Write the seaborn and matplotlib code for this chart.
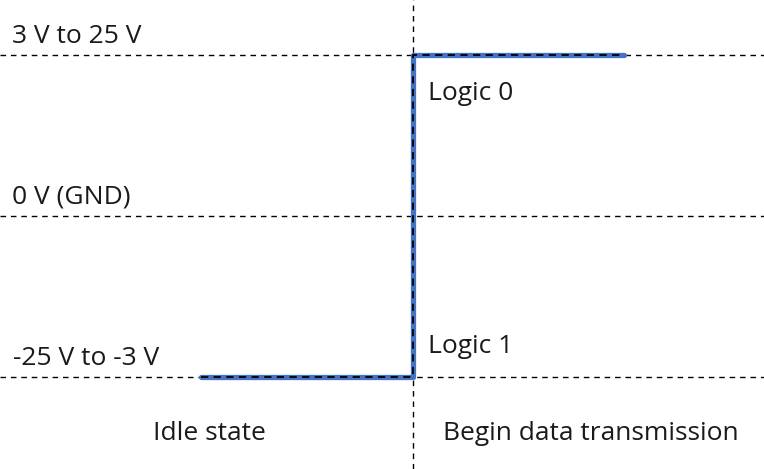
import matplotlib
matplotlib.use("Agg")
import matplotlib.pyplot as plt
import pandas as pd
import seaborn as sns

# voltage levels (high, ground, low) and their labels
level_values = [1, 0, -1]
level_labels = ["3 V to 25 V", "0 V (GND)", "-25 V to -3 V"]

# signal: idle at logic 1, then start of transmission at logic 0
signal_time = [-1, 0, 0, 1]
signal_level = [-1, -1, 1, 1]

logic_labels = ["Logic 0", "Logic 1"]
phase_labels = ["Idle state", "Begin data transmission"]

sns.set_theme(style="white")
plt.rcParams["font.family"] = ["Open Sans", "DejaVu Sans"]

W, H = 764, 469
fig = plt.figure(figsize=(W / 100, H / 100), dpi=100)
ax = fig.add_axes([0, 0, 1, 1])

df = pd.DataFrame({"time": signal_time, "level": signal_level})
sns.lineplot(data=df, x="time", y="level", sort=False, estimator=None,
             color="#4472C4", linewidth=3.8, ax=ax)
sns.lineplot(data=df, x="time", y="level", sort=False, estimator=None,
             color="black", linewidth=1.3, ax=ax)
ax.lines[-1].set_dashes((4, 3))

for v in level_values:
    ax.axhline(v, color="black", linewidth=1.0, dashes=(4, 3.5), zorder=1)
ax.axvline(0, color="black", linewidth=1.0, dashes=(4, 3.5), zorder=1)

ax.set_xlim(-1.9527, 1.6596)
ax.set_ylim(-1.5714, 1.3416)
ax.set_axis_off()

fs = 19
tc = "#1a1a1a"


def put(px, py, s, ha="left"):
    fig.text(px / W, 1 - py / H, s, ha=ha, va="baseline", fontsize=fs, color=tc)


put(12, 43, level_labels[0])
put(12, 203, level_labels[1])
put(13, 365, level_labels[2])
put(428, 100, logic_labels[0])
put(428, 353, logic_labels[1])
put(209, 440, phase_labels[0], ha="center")
put(591, 440, phase_labels[1], ha="center")

fig.savefig("out.png", dpi=100)
